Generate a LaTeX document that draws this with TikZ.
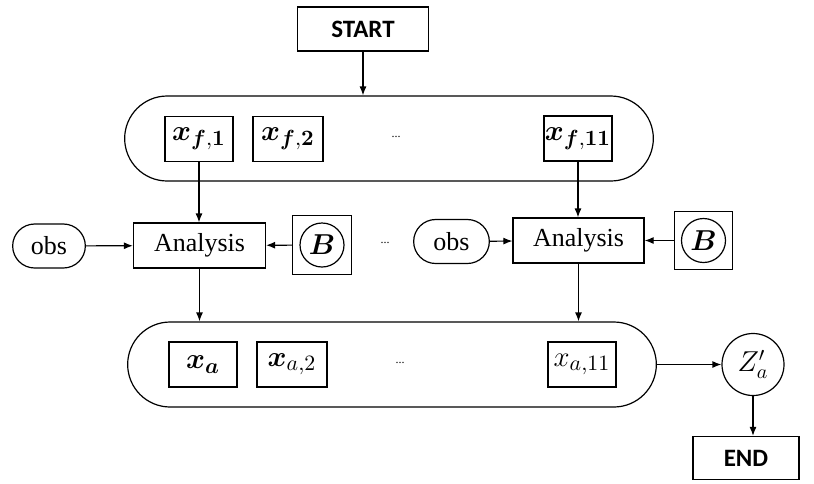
\documentclass[tikz,border=0pt]{standalone}
\usepackage{amsmath}
\usepackage[no-math]{fontspec}
\setmainfont{Liberation Serif}
\newfontfamily\rotulo{Carlito}
\usetikzlibrary{arrows.meta,shapes.misc,fit}

\tikzset{
  caixa/.style={draw, semithick, inner sep=0pt, minimum width=34pt, minimum height=22.5pt, font=\fontsize{15}{17}\selectfont},
  pilula/.style={draw, semithick, rounded rectangle, minimum width=271pt, minimum height=42.5pt},
  terminal/.style={draw, semithick, minimum width=65.5pt, minimum height=22pt, font=\rotulo\bfseries\fontsize{12.5}{14}\selectfont},
  analise/.style={draw, semithick, minimum width=66pt, minimum height=22.5pt, font=\fontsize{13}{15}\selectfont},
  obsbox/.style={draw, semithick, rounded rectangle, minimum width=43pt, minimum height=22pt, font=\fontsize{13}{15}\selectfont},
  bcirc/.style={draw, semithick, circle, minimum size=22pt, inner sep=0pt, font=\fontsize{15}{17}\selectfont},
  seta/.style={semithick, -{Latex[length=4.5pt,width=3.5pt]}},
  pontos/.style={font=\fontsize{6}{7}\selectfont}
}

\begin{document}
\begin{tikzpicture}[x=0.5pt, y=-0.5pt]

\useasboundingbox (0,0) rectangle (814,483);

% Inicio
\node[terminal] (start) at (363,29) {START};

% Ensemble de previsao
\node[pilula] (ensf) at (389,138.5) {};
\node[caixa] (xf1) at (199,139) {$\boldsymbol{x}_{\boldsymbol{f},\mathbf{1}}$};
\node[caixa, minimum width=35pt] (xf2) at (288,139) {$\boldsymbol{x}_{\boldsymbol{f},\mathbf{2}}$};
\node[pontos] (df) at (396,137) {...};
\node[caixa] (xf11) at (578,138.5) {$\boldsymbol{x}_{\boldsymbol{f},\mathbf{11}}$};

% Analises
\node[obsbox] (obs1) at (49,246) {obs};
\node[analise] (ana1) at (199.5,245.5) {Analysis};
\node[bcirc] (b1) at (322,245) {$\boldsymbol{B}$};
\node[draw, semithick, fit=(b1), inner sep=3.5pt] (bb1) {};
\node[pontos] (dm) at (385,243) {...};
\node[obsbox, minimum width=44.5pt] (obs2) at (451.5,241.5) {obs};
\node[analise, minimum width=65.5pt] (ana2) at (578.5,240.5) {Analysis};
\node[bcirc] (b2) at (703.5,240.5) {$\boldsymbol{B}$};
\node[draw, semithick, fit=(b2), inner sep=3.2pt] (bb2) {};

% Ensemble de analise
\node[pilula] (ensa) at (392,364.5) {};
\node[caixa] (xa) at (203,364.5) {$\boldsymbol{x_a}$};
\node[caixa, minimum width=35pt] (xa2) at (292,364.5) {$\boldsymbol{x}_{a,2}$};
\node[pontos] (da) at (400,363) {...};
\node[caixa] (xa11) at (582,364.5) {$x_{a,11}$};

% Fim
\node[draw, semithick, circle, minimum size=31pt, inner sep=0pt, font=\fontsize{14.5}{16}\selectfont] (za) at (753,364.5) {$Z_a'$};
\node[terminal, minimum width=53pt, minimum height=21.5pt] (fim) at (746,458) {END};

% Setas
\draw[seta] (start.south) -- (start.south |- ensf.north);
\draw[seta] (xf1.south) -- (xf1.south |- ana1.north);
\draw[seta] (xf11.south) -- (xf11.south |- ana2.north);
\draw[seta] (obs1) -- (ana1);
\draw[seta] (bb1) -- (ana1);
\draw[seta] (obs2) -- (ana2);
\draw[seta] (bb2) -- (ana2);
\draw[seta] (ana1.south) -- (ana1.south |- ensa.north);
\draw[seta] (ana2.south) -- (ana2.south |- ensa.north);
\draw[seta] (ensa.east) -- (za.west);
\draw[seta] (za.south) -- (za.south |- fim.north);

\end{tikzpicture}
\end{document}
